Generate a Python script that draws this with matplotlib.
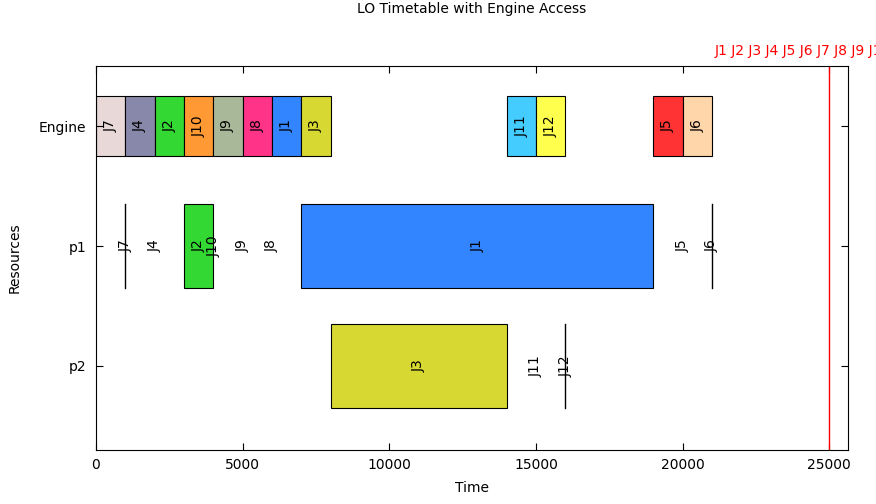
import matplotlib
matplotlib.use("Agg")
import matplotlib.pyplot as plt
import matplotlib.transforms as mtransforms

# linhas do grafico (de cima para baixo)
recursos = ["Engine", "p1", "p2"]

# acesso ao engine: job, inicio, fim, cor
engine_jobs = ["J7", "J4", "J2", "J10", "J9", "J8", "J1", "J3", "J11", "J12", "J5", "J6"]
engine_ini = [0, 1000, 2000, 3000, 4000, 5000, 6000, 7000, 14000, 15000, 19000, 20000]
engine_fim = [1000, 2000, 3000, 4000, 5000, 6000, 7000, 8000, 15000, 16000, 20000, 21000]
cores = {
    "J1": "#3385ff", "J2": "#33d833", "J3": "#d8d833", "J4": "#8888aa",
    "J5": "#ff3333", "J6": "#ffd5aa", "J7": "#e8d8d8", "J8": "#ff3388",
    "J9": "#aab89a", "J10": "#ff9933", "J11": "#44ccff", "J12": "#ffff4d",
}

# execucao nos processadores: recurso, job, inicio, fim
exec_recurso = ["p1", "p1", "p1", "p1", "p1", "p1", "p1", "p1", "p1", "p2", "p2", "p2"]
exec_jobs = ["J7", "J4", "J2", "J10", "J9", "J8", "J1", "J5", "J6", "J3", "J11", "J12"]
exec_ini = [1000, 2000, 3000, 4000, 5000, 6000, 7000, 20000, 21000, 8000, 15000, 16000]
exec_fim = [1000, 2000, 4000, 4000, 5000, 6000, 19000, 20000, 21000, 14000, 15000, 16000]
# jobs sem marca desenhada no processador (so o rotulo)
so_rotulo = ["J4", "J10", "J9", "J8", "J5", "J11"]

deadline = 25000
deadline_jobs = ["J1", "J2", "J3", "J4", "J5", "J6", "J7", "J8", "J9", "J10", "J11", "J12"]

plt.rcParams["font.family"] = "DejaVu Sans"
plt.rcParams["font.size"] = 10

fig = plt.figure(figsize=(8.76, 5.04), dpi=100)
ax = fig.add_axes([96 / 876, 54 / 504, 752 / 876, 384 / 504])

ypos = {r: i for i, r in enumerate(recursos)}

# caixas do engine
for job, ini, fim in zip(engine_jobs, engine_ini, engine_fim):
    y = ypos["Engine"]
    ax.bar(ini, 0.5, width=fim - ini, bottom=y - 0.25, align="edge",
           color=cores[job], edgecolor="black", linewidth=0.8)
    ax.text((ini + fim) / 2, y, job, rotation=90, ha="center", va="center")

# caixas dos processadores
for rec, job, ini, fim in zip(exec_recurso, exec_jobs, exec_ini, exec_fim):
    y = ypos[rec]
    if job not in so_rotulo:
        if fim > ini:
            ax.bar(ini, 0.7, width=fim - ini, bottom=y - 0.35, align="edge",
                   color=cores[job], edgecolor="black", linewidth=0.8)
        else:
            ax.plot([ini, ini], [y - 0.35, y + 0.35], color="black", linewidth=1)
    ax.text((ini + fim) / 2, y, job, rotation=90, ha="center", va="center")

# deadline
ax.axvline(deadline, color="red", linewidth=1)
trans = mtransforms.blended_transform_factory(ax.transData, ax.transAxes)
ax.text(deadline, 1.022, " ".join(deadline_jobs), color="red", ha="center",
        va="bottom", transform=trans)

ax.set_xlim(0, 25640)
ax.set_ylim(2.7, -0.5)
ax.set_xticks([0, 5000, 10000, 15000, 20000, 25000])
ax.set_yticks(range(len(recursos)))
ax.set_yticklabels(recursos)
ax.tick_params(axis="x", direction="in", top=True, length=5, pad=6)
ax.tick_params(axis="y", direction="in", right=True, length=5, pad=7)
ax.set_xlabel("Time", labelpad=6)
ax.set_ylabel("Resources", labelpad=12)
fig.suptitle("LO Timetable with Engine Access", y=0.997, x=472 / 876, fontsize=10)

fig.savefig("out.png", dpi=100)
